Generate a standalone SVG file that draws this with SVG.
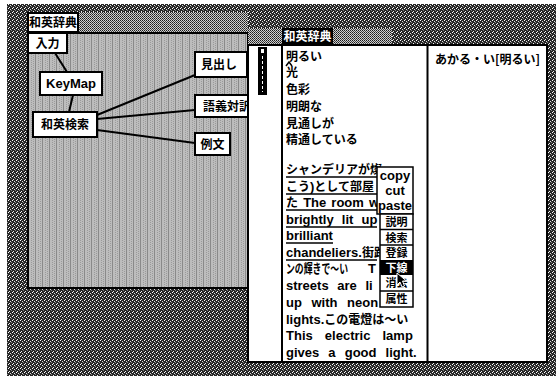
<svg xmlns="http://www.w3.org/2000/svg" width="556" height="376" viewBox="0 0 556 376">
<defs>
<pattern id="dark" width="4" height="4" patternUnits="userSpaceOnUse">
<rect width="4" height="4" fill="#262626"/>
<rect x="0" y="0" width="1" height="1" fill="#ffffff"/>
<rect x="2" y="1" width="1" height="1" fill="#dddddd"/>
<rect x="1" y="3" width="1" height="1" fill="#eeeeee"/>
<rect x="3" y="2" width="1" height="1" fill="#888888"/>
</pattern>
<pattern id="mid" width="2" height="2" patternUnits="userSpaceOnUse">
<rect width="2" height="2" fill="#d0d0d0"/>
<rect width="1" height="1" fill="#1a1a1a"/>
<rect x="1" y="1" width="1" height="1" fill="#444444"/>
</pattern>
<pattern id="stripe" width="7" height="2" patternUnits="userSpaceOnUse">
<rect width="7" height="2" fill="#bdbdbd"/>
<rect x="0" width="1" height="2" fill="#8a8a8a"/>
<rect x="3" y="0" width="1" height="1" fill="#9a9a9a"/>
<rect x="5" y="1" width="1" height="1" fill="#9a9a9a"/>
</pattern>
</defs>
<style>
.box{fill:#fff;stroke:#000;stroke-width:2}
.lbl{font-family:"Liberation Sans","Noto Sans CJK JP",sans-serif;font-weight:bold;font-size:13px;fill:#000}
.jp{font-family:"Noto Sans CJK JP","Liberation Sans",sans-serif;font-weight:bold;font-size:12px;fill:#000}
.body{font-family:"Liberation Sans","Noto Sans CJK JP",sans-serif;font-weight:bold;font-size:13px;fill:#000}
.bj{font-family:"Noto Sans CJK JP",sans-serif;font-size:12px;font-weight:bold}
.edge{stroke:#000;stroke-width:2;fill:none}
.ul{stroke:#000;stroke-width:1.5}
.ln{stroke:#000;stroke-width:2}
.mid{text-anchor:middle}
.mi{font-size:11px}
</style>
<rect width="556" height="376" fill="#fff"/>
<rect x="7" y="4" width="549" height="372" fill="url(#dark)"/>

<!-- left window -->
<g id="left-window">
<rect x="28" y="12" width="220" height="21" fill="url(#mid)"/>
<rect x="28" y="33" width="220" height="255" fill="url(#stripe)" stroke="#000" stroke-width="2"/>
<rect x="28" y="13" width="50" height="19" class="box"/>
<text x="53" y="27" class="jp mid" font-size="11">和英辞典</text>
</g>

<g id="connectors">
<line class="edge" x1="55" y1="53" x2="67" y2="72"/>
<line class="edge" x1="73" y1="95" x2="69" y2="112"/>
<line class="edge" x1="97" y1="115" x2="195" y2="75"/>
<line class="edge" x1="97" y1="119" x2="195" y2="110"/>
<line class="edge" x1="97" y1="130" x2="195" y2="143"/>
</g>

<g id="node-nyuryoku"><rect x="28" y="33" width="39" height="20" class="box"/><text x="47.5" y="48" class="jp mid">入力</text></g>
<g id="node-keymap"><rect x="40" y="72" width="62" height="23" class="box"/><text x="71" y="88" class="lbl mid">KeyMap</text></g>
<g id="node-waei"><rect x="33" y="112" width="64" height="25" class="box"/><text x="65" y="129" class="jp mid">和英検索</text></g>
<g id="node-midashi"><rect x="195" y="52" width="52" height="25" class="box"/><text x="219" y="69" class="jp mid">見出し</text></g>
<g id="node-gogi"><rect x="195" y="95" width="62" height="22" class="box"/><text x="203" y="111" class="jp">語義対訳</text></g>
<g id="node-reibun"><rect x="195" y="133" width="35" height="22" class="box"/><text x="212.5" y="149" class="jp mid">例文</text></g>

<!-- right window -->
<g id="right-window">
<rect x="248" y="28" width="144" height="17" fill="url(#mid)"/>
<rect x="282" y="28" width="51" height="17" fill="#000"/>
<text x="307.5" y="41" class="jp mid" style="fill:#fff">和英辞典</text>
<rect x="248" y="45" width="299" height="317" fill="#fff" stroke="#000" stroke-width="2"/>
<rect x="258" y="47" width="9" height="48" fill="#000"/>
<rect x="261" y="49" width="3" height="4" fill="#fff"/>
<line x1="262.5" y1="56" x2="262.5" y2="92" stroke="#fff" stroke-width="1" stroke-dasharray="3 2"/>
<line class="ln" x1="282" y1="45" x2="282" y2="362"/>
<line class="ln" x1="427.5" y1="45" x2="427.5" y2="362"/>
</g>

<g id="word-list">
<text x="286" y="61" class="jp">明るい</text>
<polyline points="286,66 289,62 292,66" fill="none" stroke="#000" stroke-width="1.5"/>
<text x="286" y="77" class="jp">光</text>
<text x="286" y="94" class="jp">色彩</text>
<text x="286" y="111" class="jp">明朗な</text>
<text x="286" y="128" class="jp">見通しが</text>
<text x="286" y="144" class="jp">精通している</text>
</g>

<g id="entry">
<text x="435" y="64" class="jp">あかる・い[明るい]</text>
</g>

<g id="example">
<text x="286" y="174" class="body"><tspan class="bj">シャンデリアが燦</tspan></text>
<text x="286" y="191" class="body"><tspan class="bj">こう</tspan>)<tspan class="bj">として部屋</tspan></text>
<text x="286" y="207" class="body" word-spacing="1.5"><tspan class="bj">た</tspan> The room w</text>
<text x="286" y="224" class="body" word-spacing="4.5">brightly lit up</text>
<text x="286" y="240" class="body">brilliant</text>
<text x="286" y="257" class="body">chandeliers.<tspan class="bj">街路</tspan></text>
<text x="286" y="273" class="body" font-size="11" font-family="Noto Sans CJK JP, sans-serif" textLength="62" lengthAdjust="spacingAndGlyphs">ンの輝きで〜い</text>
<text x="368" y="273" class="body" font-size="12">T</text>
<text x="286" y="290" class="body" word-spacing="5">streets are li</text>
<text x="286" y="307" class="body" word-spacing="6">up with neon</text>
<text x="286" y="324" class="body">lights.<tspan class="bj">この電燈は〜い</tspan></text>
<text x="286" y="340" class="body" word-spacing="8.5">This electric lamp</text>
<text x="286" y="357" class="body" word-spacing="5.5">gives a good light.</text>
<line class="ul" x1="286" y1="177" x2="377" y2="177"/>
<line class="ul" x1="286" y1="194" x2="377" y2="194"/>
<line class="ul" x1="286" y1="210" x2="377" y2="210"/>
<line class="ul" x1="286" y1="227" x2="377" y2="227"/>
<line class="ul" x1="286" y1="243" x2="333" y2="243"/>
<line class="ul" x1="286" y1="260" x2="377" y2="260"/>
</g>

<g id="popup-menu">
<rect x="377" y="167" width="36" height="47" fill="#fff" stroke="#000" stroke-width="1.5"/>
<text x="395" y="180" class="lbl mid" font-size="12">copy</text>
<text x="395" y="195" class="lbl mid" font-size="12">cut</text>
<text x="395" y="209.5" class="lbl mid" font-size="12">paste</text>
<rect x="380" y="214" width="33" height="93" fill="#fff" stroke="#000" stroke-width="1.5"/>
<rect x="380" y="260" width="33" height="15" fill="#000"/>
<line x1="380" y1="229.5" x2="413" y2="229.5" stroke="#000" stroke-width="1.5"/>
<line x1="380" y1="245" x2="413" y2="245" stroke="#000" stroke-width="1.5"/>
<line x1="380" y1="291" x2="413" y2="291" stroke="#000" stroke-width="1.5"/>
<text x="396.5" y="226" class="jp mid mi">説明</text>
<text x="396.5" y="241.5" class="jp mid mi">検索</text>
<text x="396.5" y="256.5" class="jp mid mi">登録</text>
<text x="396.5" y="271.5" class="jp mid mi" style="fill:#fff">下線</text>
<text x="396.5" y="287" class="jp mid mi">消去</text>
<text x="396.5" y="302.5" class="jp mid mi">属性</text>
<polygon points="397,273 397,285 400,282 402,287 404.5,286 402.5,281 406.5,281" fill="#000" stroke="#fff" stroke-width="1"/>
</g>
</svg>
